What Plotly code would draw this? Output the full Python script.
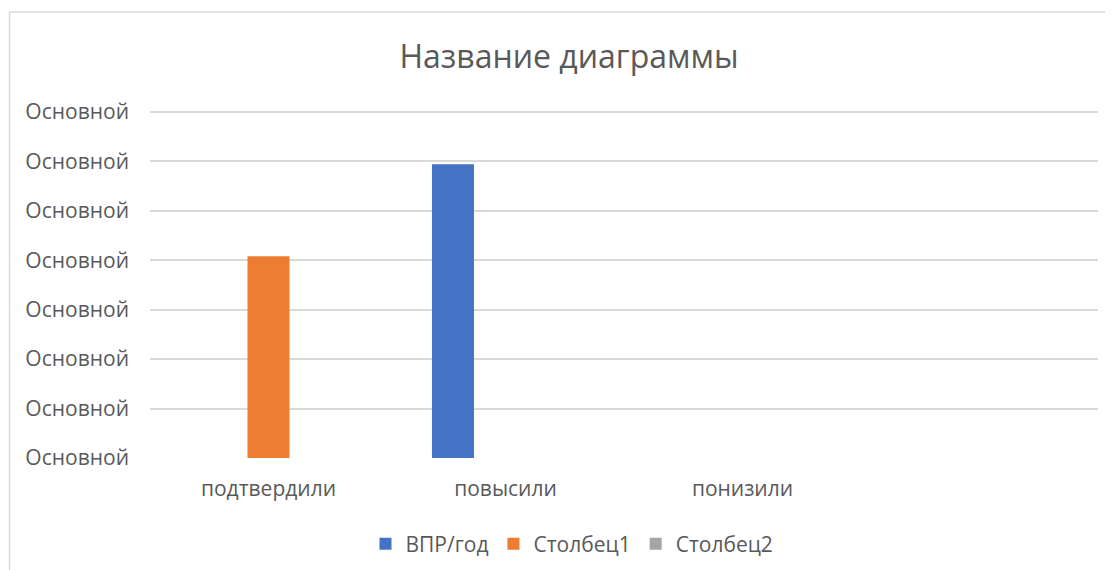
import plotly.graph_objects as go

categories = ["подтвердили", "повысили", "понизили", " "]
series_names = ["ВПР/год", "Столбец1", "Столбец2"]
vpr_god = [None, 5.94, None, None]
stolbec1 = [4.08, None, None, None]
stolbec2 = [None, None, None, None]
colors = ["#4472C4", "#ED7D31", "#A5A5A5"]
y_ticks = [0, 1, 2, 3, 4, 5, 6, 7]
y_tick_text = ["Основной"] * 8

FONT = "Open Sans"
GRAY = "#595959"

fig = go.Figure()
for name, vals, col in zip(series_names, [vpr_god, stolbec1, stolbec2], colors):
    fig.add_trace(go.Bar(x=categories, y=vals, name=name, marker=dict(color=col, line=dict(width=0))))

# page body has an 8px margin; figure coordinates = window coordinates - 8
OFF = 8
W, H = 1113 - OFF, 570 - OFF
L, R, T, B = 142, 15, 99, 112
pw, ph = W - L - R, H - T - B

def px_x(px):
    return (px - OFF - L) / pw

def px_y(py):
    return (H - B - (py - OFF)) / ph

fig.update_layout(
    width=W, height=H,
    margin=dict(l=L, r=R, t=T, b=B),
    paper_bgcolor="white", plot_bgcolor="white",
    barmode="group", bargap=0.335, bargroupgap=0.2,
    title=dict(text="Название диаграммы", x=(569 - OFF) / W, xanchor="center", xref="container",
               y=1 - (57 - OFF) / H, yanchor="middle", yref="container",
               font=dict(family=FONT, size=32, color=GRAY)),
    font=dict(family=FONT, color=GRAY),
    xaxis=dict(showgrid=False, showline=False, zeroline=False, ticks="",
               tickfont=dict(size=21, color=GRAY), ticklabelstandoff=16),
    yaxis=dict(range=[0, 7.1], tickvals=y_ticks, ticktext=y_tick_text, showgrid=True,
               gridcolor="#D9D9D9", gridwidth=1.6, zeroline=False, showline=False, ticks="",
               tickfont=dict(size=21, color=GRAY), ticklabelstandoff=20),
    legend=dict(orientation="h", x=(572 - OFF) / W, xref="container", xanchor="center",
                y=1 - (544 - OFF) / H, yref="container", yanchor="middle",
                font=dict(size=21, color=GRAY), itemclick=False),
    showlegend=True,
    shapes=[
        dict(type="line", xref="paper", yref="paper", x0=px_x(9.5), x1=px_x(9.5), y0=px_y(12), y1=px_y(580),
             line=dict(color="#D9D9D9", width=1.5)),
        dict(type="line", xref="paper", yref="paper", x0=px_x(9.5), x1=px_x(1130), y0=px_y(12), y1=px_y(12),
             line=dict(color="#D9D9D9", width=1.5)),
    ],
)

fig.write_html("out.html")
